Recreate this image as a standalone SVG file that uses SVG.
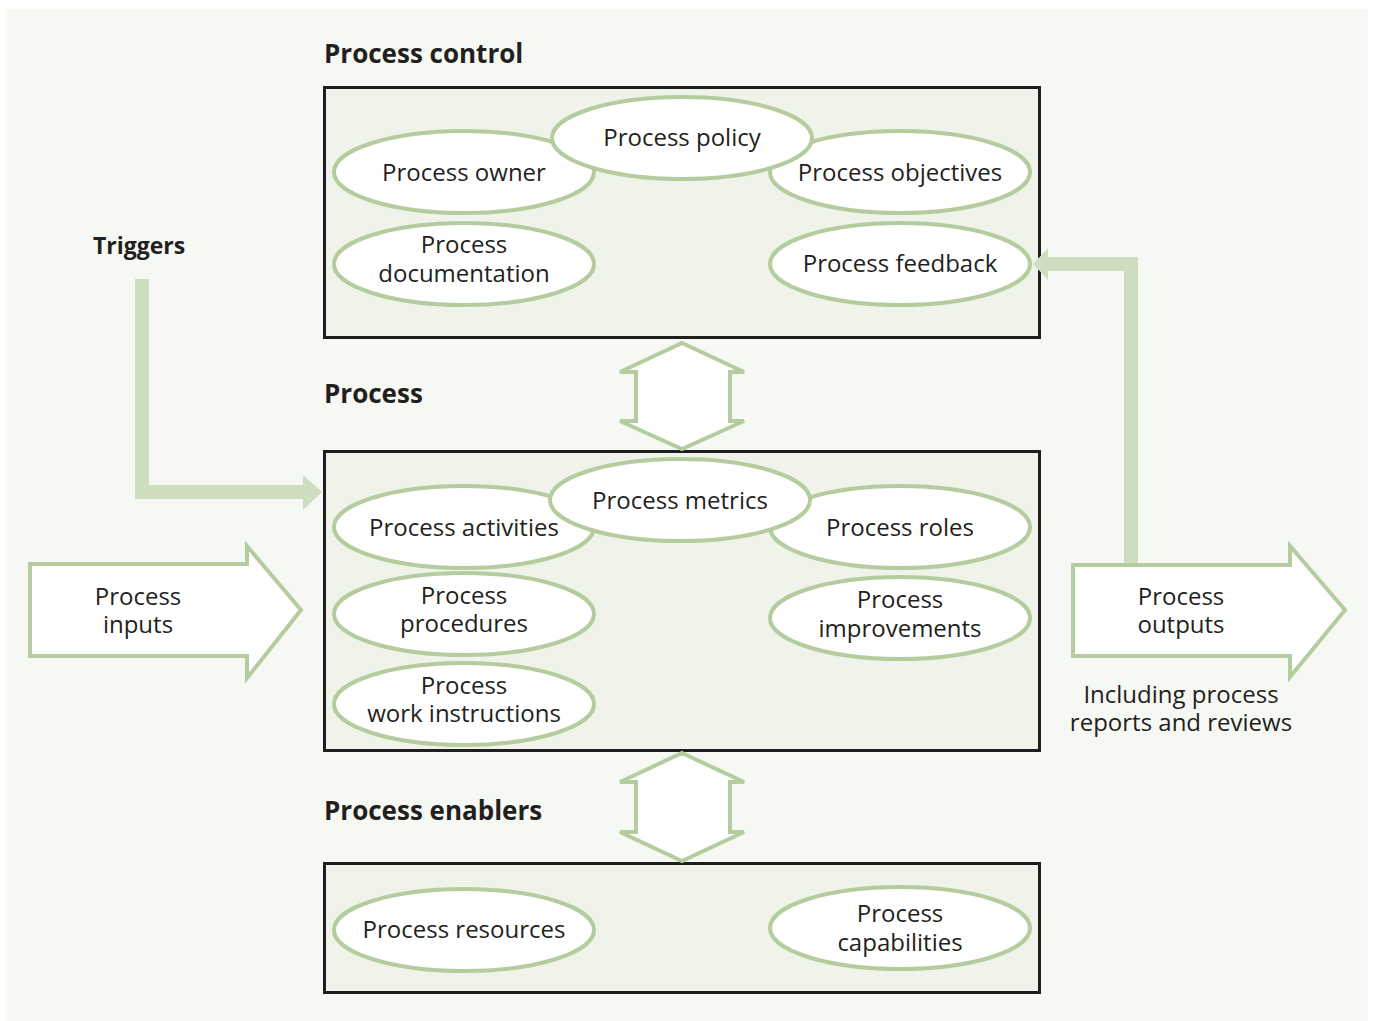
<svg xmlns="http://www.w3.org/2000/svg" width="1373" height="1021" viewBox="0 0 1373 1021">
<style>
.t{font-family:"Open Sans","Noto Sans","Liberation Sans",sans-serif;font-size:24px;fill:#231f20;text-anchor:middle}
.h{font-family:"Open Sans","Noto Sans","Liberation Sans",sans-serif;font-size:26px;font-weight:bold;fill:#231f20}
.box{fill:#eff3ea;stroke:#1e1e1e;stroke-width:3}
.el{fill:#ffffff;stroke:#b5cc9e;stroke-width:4}
.big{fill:#ffffff;stroke:#b5cc9e;stroke-width:4;stroke-linejoin:miter}
.flow{fill:#cfddc0}
</style>
<rect x="0" y="0" width="1373" height="1021" fill="#ffffff"/>
<rect x="6" y="9" width="1362" height="1012" fill="#f6f8f3"/>

<text class="h" x="324" y="63">Process control</text>
<text class="h" x="324" y="403">Process</text>
<text class="h" x="324" y="820">Process enablers</text>
<text class="h" x="93" y="254" style="font-size:23px">Triggers</text>

<g id="control-box"><rect class="box" x="324.5" y="87.5" width="715" height="250"/></g>
<g id="process-box"><rect class="box" x="324.5" y="451.5" width="715" height="299"/></g>
<g id="enablers-box"><rect class="box" x="324.5" y="863.5" width="715" height="129"/></g>

<g id="connectors">
  <g id="triggers-arrow">
    <path class="flow" d="M135,279 H149 V485 H303 V475 L322,492 L303,510 V499 H135 Z"/>
  </g>
  <g id="feedback-arrow">
    <path class="flow" d="M1124,565 V271 H1048 V280 L1033,264 L1048,248 V257 H1138 V565 Z"/>
  </g>
  <g id="control-process-arrow">
    <path class="big" d="M682,343 L744,372 L730,372 L730,421 L744,421 L682,449 L620,421 L636,421 L636,372 L620,372 Z"/>
  </g>
  <g id="process-enablers-arrow">
    <path class="big" d="M682,753 L744,782 L730,782 L730,832 L744,832 L682,861 L620,832 L636,832 L636,782 L620,782 Z"/>
  </g>
</g>

<g id="process-inputs">
  <path class="big" d="M30,564 H247 V546 L301,610 L247,678 V656 H30 Z"/>
  <text class="t" x="138" y="605">Process</text>
  <text class="t" x="138" y="633">inputs</text>
</g>
<g id="process-outputs">
  <path class="big" d="M1073,565 H1290 V546 L1345,610 L1290,677 V656 H1073 Z"/>
  <text class="t" x="1181" y="605">Process</text>
  <text class="t" x="1181" y="633">outputs</text>
</g>
<g id="outputs-note">
  <text class="t" x="1181" y="703">Including process</text>
  <text class="t" x="1181" y="731">reports and reviews</text>
</g>

<g id="process-owner"><ellipse class="el" cx="464" cy="172" rx="130" ry="41"/></g>
<g id="process-objectives"><ellipse class="el" cx="900" cy="172" rx="130" ry="41"/></g>
<g id="process-policy"><ellipse class="el" cx="682" cy="138" rx="130" ry="41"/></g>
<g id="process-documentation"><ellipse class="el" cx="464" cy="264" rx="130" ry="41"/></g>
<g id="process-feedback"><ellipse class="el" cx="900" cy="264" rx="130" ry="41"/></g>

<g id="process-activities"><ellipse class="el" cx="464" cy="527" rx="130" ry="41"/></g>
<g id="process-roles"><ellipse class="el" cx="900" cy="527" rx="130" ry="41"/></g>
<g id="process-metrics"><ellipse class="el" cx="680" cy="500" rx="130" ry="41"/></g>
<g id="process-procedures"><ellipse class="el" cx="464" cy="614" rx="130" ry="41"/></g>
<g id="process-improvements"><ellipse class="el" cx="900" cy="618" rx="130" ry="41"/></g>
<g id="process-work-instructions"><ellipse class="el" cx="464" cy="704" rx="130" ry="41"/></g>

<g id="process-resources"><ellipse class="el" cx="464" cy="930" rx="130" ry="41"/></g>
<g id="process-capabilities"><ellipse class="el" cx="900" cy="928" rx="130" ry="41"/></g>

<g id="labels">
  <text class="t" x="464" y="181">Process owner</text>
  <text class="t" x="682" y="146">Process policy</text>
  <text class="t" x="900" y="181">Process objectives</text>
  <text class="t" x="464" y="253">Process</text>
  <text class="t" x="464" y="282">documentation</text>
  <text class="t" x="900" y="272">Process feedback</text>
  <text class="t" x="680" y="509">Process metrics</text>
  <text class="t" x="464" y="536">Process activities</text>
  <text class="t" x="900" y="536">Process roles</text>
  <text class="t" x="464" y="604">Process</text>
  <text class="t" x="464" y="632">procedures</text>
  <text class="t" x="900" y="608">Process</text>
  <text class="t" x="900" y="637">improvements</text>
  <text class="t" x="464" y="694">Process</text>
  <text class="t" x="464" y="722">work instructions</text>
  <text class="t" x="464" y="938">Process resources</text>
  <text class="t" x="900" y="922">Process</text>
  <text class="t" x="900" y="951">capabilities</text>
</g>
</svg>
